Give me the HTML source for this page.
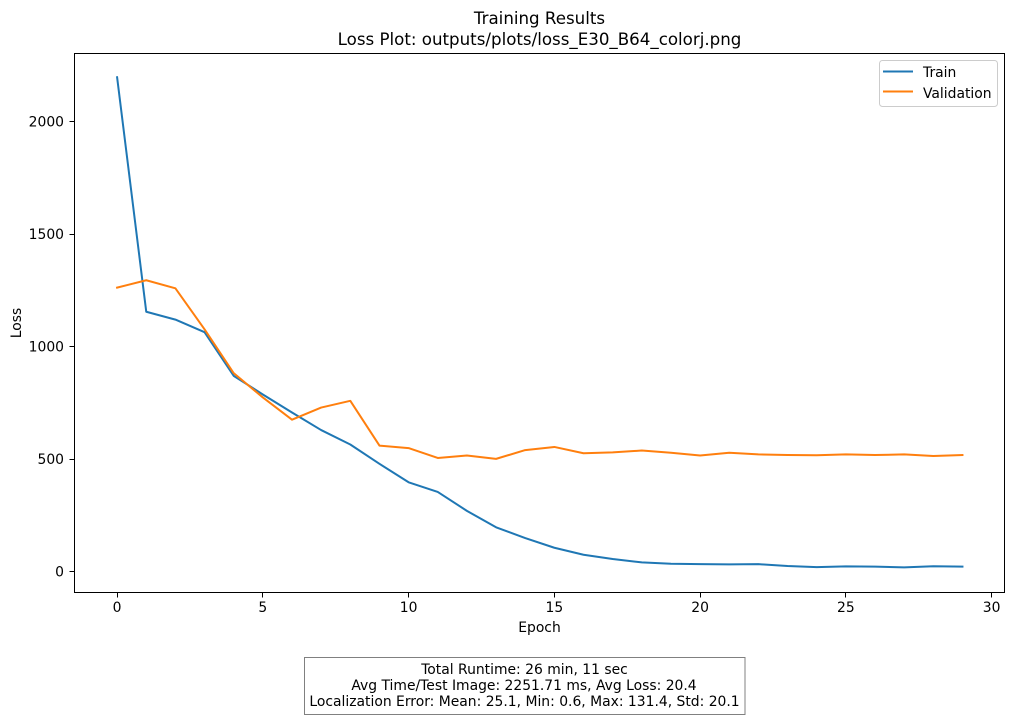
<!DOCTYPE html>
<html>
<head>
<meta charset="utf-8">
<title>Training Results</title>
<style>
html,body{margin:0;padding:0;background:#fff;}
svg{display:block;font-family:"DejaVu Sans","Liberation Sans",sans-serif;}
text{fill:#000;}
</style>
</head>
<body>
<svg id="chart" xmlns="http://www.w3.org/2000/svg" width="1014" height="719" viewBox="0 0 1014 719">
  <rect x="0" y="0" width="1014" height="719" fill="#fff"/>
  <text x="539.5" y="24" font-size="16.67" text-anchor="middle">Training Results</text>
  <text x="539.5" y="45" font-size="16.67" text-anchor="middle">Loss Plot: outputs/plots/loss_E30_B64_colorj.png</text>
  <g id="xticks"></g>
  <g id="yticks"></g>
  <g id="series"></g>
  <rect x="74.5" y="53.5" width="930" height="539" fill="none" stroke="#000" stroke-width="1"/>
  <text x="539.5" y="632" font-size="13.9" text-anchor="middle">Epoch</text>
  <text transform="translate(21,323) rotate(-90)" font-size="13.9" text-anchor="middle">Loss</text>
  <g>
    <rect x="879.5" y="60.5" width="118" height="46" rx="3" fill="#fff" fill-opacity="0.8" stroke="#ccc" stroke-width="1"/>
    <line x1="883" y1="71.5" x2="913" y2="71.5" stroke="#1f77b4" stroke-width="2"/>
    <text x="923" y="77" font-size="13.9">Train</text>
    <line x1="883" y1="91.5" x2="913" y2="91.5" stroke="#ff7f0e" stroke-width="2"/>
    <text x="923" y="98" font-size="13.9">Validation</text>
  </g>
  <g>
    <rect x="304.5" y="657.5" width="440.5" height="57" fill="#fff" stroke="#808080" stroke-width="1"/>
    <text x="524.5" y="674" font-size="13.9" text-anchor="middle">Total Runtime: 26 min, 11 sec</text>
    <text x="524" y="690" font-size="13.9" text-anchor="middle">Avg Time/Test Image: 2251.71 ms, Avg Loss: 20.4</text>
    <text x="524.5" y="706" font-size="13.9" text-anchor="middle">Localization Error: Mean: 25.1, Min: 0.6, Max: 131.4, Std: 20.1</text>
  </g>
</svg>
<script>
const xTickLabels = [0, 5, 10, 15, 20, 25, 30];
const yTickLabels = [0, 500, 1000, 1500, 2000];
const trainLoss = [2197, 1155, 1120, 1064, 870, 787, 707, 629, 565, 479, 397, 354, 270, 197, 149, 106, 75, 56, 41, 35, 33, 32, 33, 25, 20, 23, 22, 19, 24, 22];
const validationLoss = [1262, 1295, 1259, 1077, 882, 774, 675, 729, 759, 560, 549, 505, 516, 501, 540, 554, 526, 530, 538, 528, 516, 528, 521, 518, 517, 521, 518, 521, 514, 518];

const NS = 'http://www.w3.org/2000/svg';
function xScale(epoch) { return 117.1 + epoch * 29.15; }
function yScale(loss) { return 571.6 - loss * 0.225; }

const xGroup = document.getElementById('xticks');
xTickLabels.forEach(function (v) {
  const px = Math.floor(xScale(v)) + 0.5;
  const tick = document.createElementNS(NS, 'line');
  
  
  tick.setAttribute('x1', px);
  tick.setAttribute('x2', px);
  tick.setAttribute('y1', 592.5);
  tick.setAttribute('y2', 597.5);
  tick.setAttribute('stroke', '#000');
  xGroup.appendChild(tick);
  const label = document.createElementNS(NS, 'text');
  
  
  label.setAttribute('x', xScale(v));
  label.setAttribute('y', 612);
  label.setAttribute('font-size', '13.9');
  label.setAttribute('text-anchor', 'middle');
  label.textContent = v;
  xGroup.appendChild(label);
});

const yGroup = document.getElementById('yticks');
yTickLabels.forEach(function (v) {
  const py = Math.floor(yScale(v)) + 0.5;
  const tick = document.createElementNS(NS, 'line');
  
  
  tick.setAttribute('x1', 69.5);
  tick.setAttribute('x2', 74.5);
  tick.setAttribute('y1', py);
  tick.setAttribute('y2', py);
  tick.setAttribute('stroke', '#000');
  yGroup.appendChild(tick);
  const label = document.createElementNS(NS, 'text');
  
  
  label.setAttribute('x', 64);
  label.setAttribute('y', yScale(v) + 5);
  label.setAttribute('font-size', '13.9');
  label.setAttribute('text-anchor', 'end');
  label.textContent = v;
  yGroup.appendChild(label);
});

const seriesGroup = document.getElementById('series');
function drawSeries(values, color, name) {
  const line = document.createElementNS(NS, 'polyline');
  
  
  line.setAttribute('points', values.map(function (v, i) { return xScale(i).toFixed(2) + ',' + yScale(v).toFixed(2); }).join(' '));
  line.setAttribute('fill', 'none');
  line.setAttribute('stroke', color);
  line.setAttribute('stroke-width', '2');
  line.setAttribute('stroke-linejoin', 'round');
  line.setAttribute('stroke-linecap', 'square');
  seriesGroup.appendChild(line);
}
drawSeries(trainLoss, '#1f77b4', 'train-line');
drawSeries(validationLoss, '#ff7f0e', 'validation-line');
</script>
</body>
</html>
